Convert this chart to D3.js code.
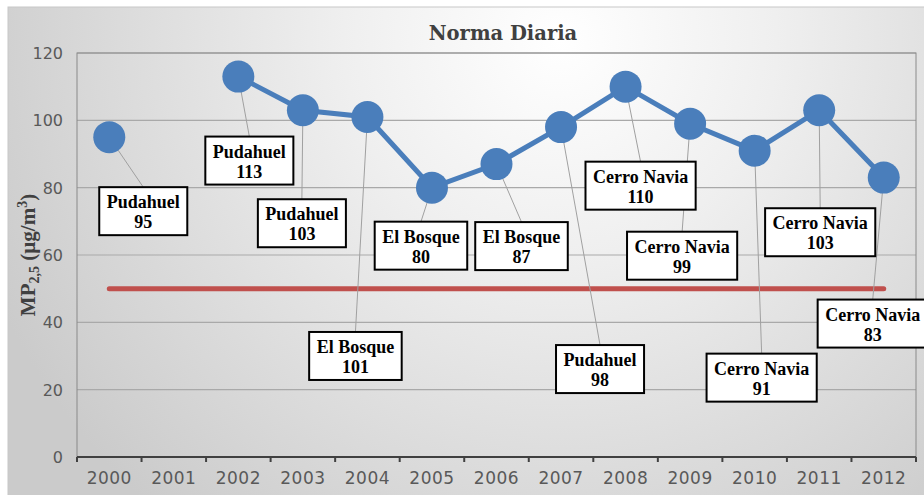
<!DOCTYPE html>
<html>
<head>
<meta charset="utf-8">
<script src="https://cdn.jsdelivr.net/npm/d3@7"></script>
<style>
  body { margin: 0; background: #fff; }
  svg { display: block; }
</style>
</head>
<body>
<svg id="chart" width="924" height="495"></svg>
<script>
// data
const years = ["2000", "2001", "2002", "2003", "2004", "2005", "2006", "2007", "2008", "2009", "2010", "2011", "2012"];
const values = [95, null, 113, 103, 101, 80, 87, 98, 110, 99, 91, 103, 83];
const stations = ["Pudahuel", null, "Pudahuel", "Pudahuel", "El Bosque", "El Bosque", "El Bosque", "Pudahuel",
  "Cerro Navia", "Cerro Navia", "Cerro Navia", "Cerro Navia", "Cerro Navia"];
const norma = 50;
const yTicks = [0, 20, 40, 60, 80, 100, 120];

// label box offsets from the point (px)
const labelOffsets = [[34, 74], null, [11, 84], [-1, 113], [-12, 239], [-11, 58], [25, 82], [39, 242],
  [15, 99], [-8, 132], [7, 227], [1, 122], [-11, 146]];

const svg = d3.select("#chart");
const W = 924, H = 495;
const plot = { left: 77, right: 916, top: 53, bottom: 457 };

// background gradient
const defs = svg.append("defs");
const grad = defs.append("radialGradient")
  .attr("id", "bg")
  .attr("gradientUnits", "userSpaceOnUse")
  .attr("cx", 560).attr("cy", 40).attr("r", 620);
grad.append("stop").attr("offset", "0%").attr("stop-color", "#ffffff");
grad.append("stop").attr("offset", "35%").attr("stop-color", "#efefef");
grad.append("stop").attr("offset", "100%").attr("stop-color", "#cbcbcb");

svg.append("rect")
  .attr("x", 8).attr("y", 7)
  .attr("width", W).attr("height", H)
  .attr("fill", "url(#bg)")
  .attr("stroke", "#c8c8c8");

const x = d3.scaleBand().domain(years).range([plot.left, plot.right]);
const y = d3.scaleLinear().domain([0, 120]).range([plot.bottom, plot.top]);
const cx = d => x(d) + x.bandwidth() / 2;

// gridlines
svg.append("g")
  .selectAll("line")
  .data(yTicks.slice(1))
  .enter().append("line")
  .attr("x1", plot.left).attr("x2", plot.right)
  .attr("y1", d => y(d)).attr("y2", d => y(d))
  .attr("stroke", "#a9a9a9")
  .attr("stroke-width", 1.2);

// plot border
svg.append("rect")
  .attr("x", plot.left).attr("y", plot.top)
  .attr("width", plot.right - plot.left).attr("height", plot.bottom - plot.top)
  .attr("fill", "none")
  .attr("stroke", "#8a8a8a")
  .attr("stroke-width", 1);

// y axis labels
svg.append("g")
  .selectAll("text")
  .data(yTicks)
  .enter().append("text")
  .attr("x", 63)
  .attr("y", d => y(d) + 6)
  .attr("text-anchor", "end")
  .attr("font-family", "DejaVu Sans")
  .attr("font-size", 16)
  .attr("fill", "#595959")
  .text(d => d);

// x axis
const xAxis = svg.append("g");
xAxis.append("line")
  .attr("x1", plot.left).attr("x2", plot.right)
  .attr("y1", plot.bottom).attr("y2", plot.bottom)
  .attr("stroke", "#404040")
  .attr("stroke-width", 2.2);
xAxis.selectAll(".tick")
  .data(years.concat(["end"]))
  .enter().append("line")
  .attr("x1", d => d === "end" ? plot.right : x(d))
  .attr("x2", d => d === "end" ? plot.right : x(d))
  .attr("y1", plot.bottom).attr("y2", plot.bottom + 5)
  .attr("stroke", "#404040")
  .attr("stroke-width", 2);
xAxis.selectAll("text")
  .data(years)
  .enter().append("text")
  .attr("x", d => cx(d))
  .attr("y", 484)
  .attr("text-anchor", "middle")
  .attr("font-family", "DejaVu Sans")
  .attr("font-size", 17)
  .attr("letter-spacing", 0.5)
  .attr("fill", "#595959")
  .text(d => d);

// y axis title
const yTitle = svg.append("text")
  .attr("transform", "translate(35," + 255 + ") rotate(-90)")
  .attr("text-anchor", "middle")
  .attr("font-family", "Liberation Serif")
  .attr("font-weight", "bold")
  .attr("font-size", 21)
  .attr("fill", "#404040");
yTitle.append("tspan").text("MP");
yTitle.append("tspan").attr("font-size", 14).attr("dy", 4).text("2,5");
yTitle.append("tspan").attr("dy", -4).text(" (µg/m");
yTitle.append("tspan").attr("font-size", 14).attr("dy", -8).text("3");
yTitle.append("tspan").attr("dy", 8).text(")");

// title
svg.append("text")
  .attr("x", 503).attr("y", 40)
  .attr("text-anchor", "middle")
  .attr("font-family", "DejaVu Serif")
  .attr("font-weight", "bold")
  .attr("font-size", 19.5)
  .attr("fill", "#404040")
  .text("Norma Diaria");

// norma line
svg.append("line")
  .attr("x1", cx(years[0])).attr("x2", cx(years[years.length - 1]))
  .attr("y1", y(norma)).attr("y2", y(norma))
  .attr("stroke", "#c0504d")
  .attr("stroke-width", 5)
  .attr("stroke-linecap", "round");

const points = years.map((yr, i) => ({ year: yr, v: values[i], st: stations[i], off: labelOffsets[i] }));
const valid = points.filter(d => d.v != null);

// leader lines
svg.append("g")
  .selectAll("line")
  .data(valid)
  .enter().append("line")
  .attr("x1", d => cx(d.year)).attr("y1", d => y(d.v))
  .attr("x2", d => cx(d.year) + d.off[0])
  .attr("y2", d => y(d.v) + d.off[1] - 24)
  .attr("stroke", "#a0a0a0")
  .attr("stroke-width", 1);

// series line
const line = d3.line()
  .defined(d => d.v != null)
  .x(d => cx(d.year))
  .y(d => y(d.v));
svg.append("path")
  .datum(points)
  .attr("d", line)
  .attr("fill", "none")
  .attr("stroke", "#4a7ebb")
  .attr("stroke-width", 5);

svg.append("g")
  .selectAll("circle")
  .data(valid)
  .enter().append("circle")
  .attr("cx", d => cx(d.year))
  .attr("cy", d => y(d.v))
  .attr("r", 16)
  .attr("fill", "#4a7ebb");

// label boxes
const labels = svg.append("g")
  .selectAll("g")
  .data(valid)
  .enter().append("g")
  .attr("transform", d => "translate(" + (cx(d.year) + d.off[0]) + "," + (y(d.v) + d.off[1]) + ")");

const rects = labels.append("rect")
  .attr("fill", "#fff")
  .attr("stroke", "#000")
  .attr("stroke-width", 2);

const txt = labels.append("text")
  .attr("text-anchor", "middle")
  .attr("font-family", "Liberation Serif")
  .attr("font-weight", "bold")
  .attr("font-size", 18)
  .attr("fill", "#000");
txt.append("tspan").attr("x", 0).attr("y", -3).text(d => d.st);
txt.append("tspan").attr("x", 0).attr("y", 17).text(d => d.v);

rects.each(function (d) {
  const tw = d3.select(this.parentNode).select("tspan").node().getComputedTextLength();
  const bw = tw + 15;
  d3.select(this)
    .attr("x", -bw / 2).attr("y", -24)
    .attr("width", bw).attr("height", 48);
});
</script>
</body>
</html>
